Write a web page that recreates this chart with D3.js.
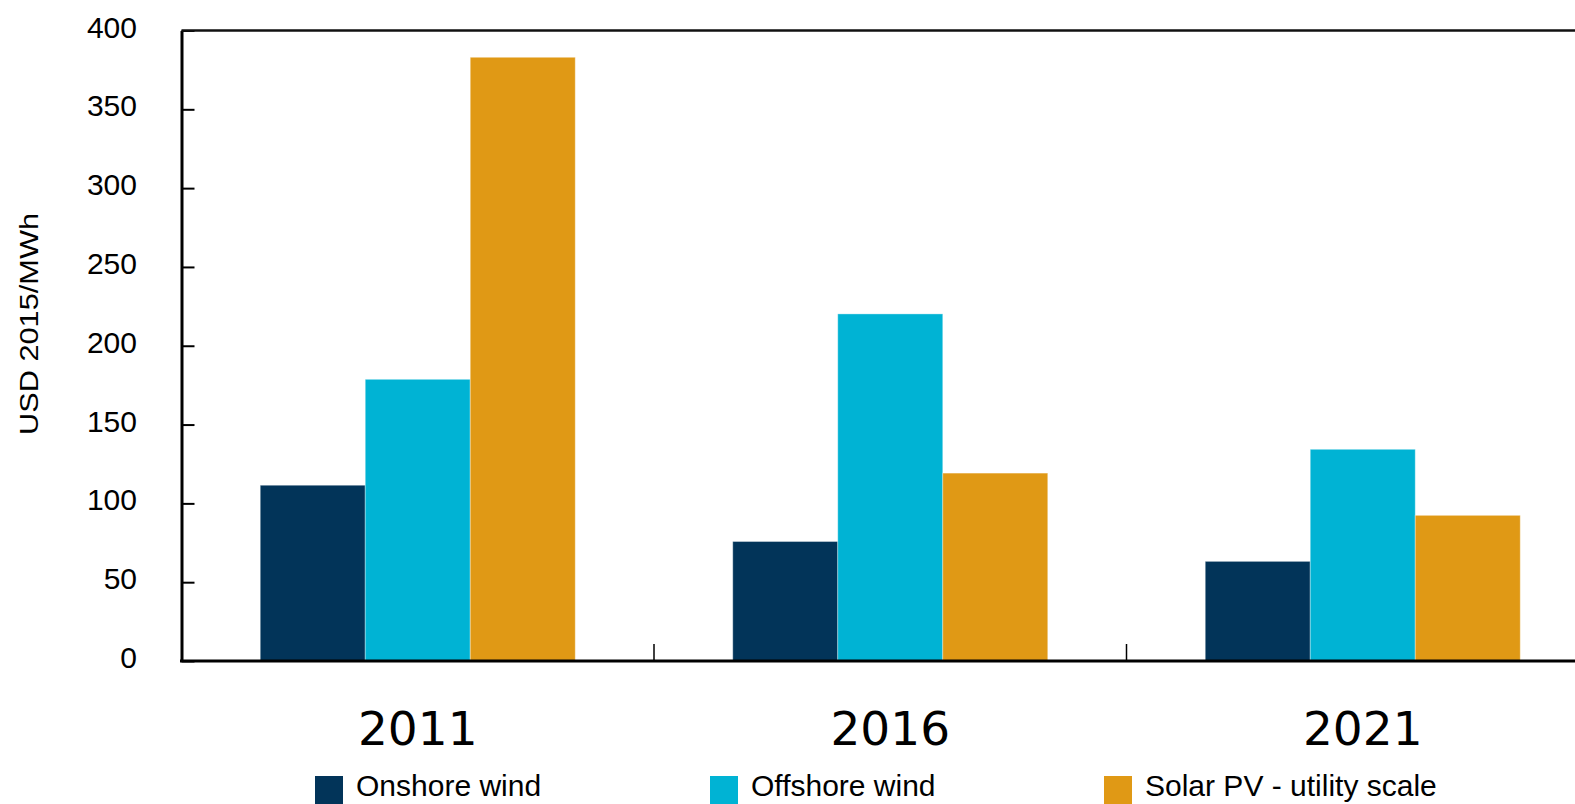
<!DOCTYPE html>
<html>
<head>
<meta charset="utf-8">
<script src="https://cdn.jsdelivr.net/npm/d3@7"></script>
<style>
  html, body { margin: 0; padding: 0; background: #fff; }
  svg { display: block; }
</style>
</head>
<body>
<svg id="chart" width="1575" height="804"></svg>
<script>
// Levelised cost of electricity, USD 2015/MWh
const years = ["2011", "2016", "2021"];
const seriesNames = ["Onshore wind", "Offshore wind", "Solar PV - utility scale"];
const onshoreWind = [111.5, 75.8, 63.2];
const offshoreWind = [178.7, 220.2, 134.3];
const solarPV = [383, 119.2, 92.4];
const yTicks = [0, 50, 100, 150, 200, 250, 300, 350, 400];
const colors = ["#023459", "#00B3D4", "#E09915"];

const seriesValues = [onshoreWind, offshoreWind, solarPV];

const svg = d3.select("#chart");
const plotLeft = 181.5, plotTop = 30.5, plotBottom = 661;
const bandW = 472.5;

const x = d3.scaleBand().domain(years).range([plotLeft, plotLeft + bandW * years.length]).padding(0);
const xs = d3.scaleBand().domain(seriesNames).range([0, x.bandwidth()]).paddingInner(0).paddingOuter(0.75);
const y = d3.scaleLinear().domain([0, 400]).range([plotBottom, plotTop]);

// Bars
const groups = svg.append("g").selectAll("g")
  .data(years)
  .join("g")
  .attr("transform", d => `translate(${x(d)},0)`);

groups.selectAll("rect")
  .data((yr, i) => seriesNames.map((s, j) => ({ s, j, v: seriesValues[j][i] })))
  .join("rect")
  .attr("x", d => xs(d.s))
  .attr("y", d => y(d.v))
  .attr("width", xs.bandwidth())
  .attr("height", d => y(0) - y(d.v))
  .attr("fill", d => colors[d.j])
  .attr("stroke", "#ffffff")
  .attr("stroke-opacity", 0.35)
  .attr("stroke-width", 1);

// Y axis with inward ticks
const yAxis = d3.axisLeft(y)
  .tickValues(yTicks)
  .tickSizeInner(-13)
  .tickSizeOuter(0)
  .tickPadding(44.5);

const yg = svg.append("g")
  .attr("transform", `translate(${plotLeft},0)`)
  .call(yAxis);
yg.select(".domain").attr("stroke", "#000").attr("stroke-width", 3);
yg.selectAll(".tick line").attr("stroke", "#000").attr("stroke-width", 2);
yg.selectAll(".tick text")
  .attr("font-family", "'Liberation Sans', Arial, sans-serif")
  .attr("font-size", 30)
  .attr("fill", "#000")
  .attr("dy", "0.22em");

// Top frame line
svg.append("line")
  .attr("x1", plotLeft).attr("x2", 1575)
  .attr("y1", y(400)).attr("y2", y(400))
  .attr("stroke", "#111").attr("stroke-width", 2.5);

// Category axis
svg.append("line")
  .attr("x1", plotLeft - 1.5).attr("x2", 1575)
  .attr("y1", y(0)).attr("y2", y(0))
  .attr("stroke", "#000").attr("stroke-width", 3);

svg.append("g").selectAll("line")
  .data(years.slice(1))
  .join("line")
  .attr("x1", d => x(d)).attr("x2", d => x(d))
  .attr("y1", y(0)).attr("y2", y(0) - 17)
  .attr("stroke", "#000").attr("stroke-width", 1.5);

svg.append("g").selectAll("text")
  .data(years)
  .join("text")
  .attr("x", d => x(d) + x.bandwidth() / 2)
  .attr("y", 745)
  .attr("text-anchor", "middle")
  .attr("font-family", "'DejaVu Sans', Verdana, sans-serif")
  .attr("font-size", 47)
  .attr("fill", "#000")
  .text(d => d);

// Y axis title
svg.append("text")
  .attr("transform", "translate(37.5,324) rotate(-90)")
  .attr("text-anchor", "middle")
  .attr("font-family", "'Liberation Sans', Arial, sans-serif")
  .attr("font-size", 25)
  .attr("textLength", 222)
  .attr("lengthAdjust", "spacingAndGlyphs")
  .attr("fill", "#000")
  .text("USD 2015/MWh");

// Legend
const legendX = [315, 710, 1104];
const legend = svg.append("g").selectAll("g")
  .data(seriesNames)
  .join("g")
  .attr("transform", (d, i) => `translate(${legendX[i]},776)`);
legend.append("rect")
  .attr("width", 28).attr("height", 28)
  .attr("fill", (d, i) => colors[i]);
legend.append("text")
  .attr("x", 41).attr("y", 20)
  .attr("font-family", "'Liberation Sans', Arial, sans-serif")
  .attr("font-size", 30)
  .attr("fill", "#000")
  .text(d => d);
</script>
</body>
</html>
